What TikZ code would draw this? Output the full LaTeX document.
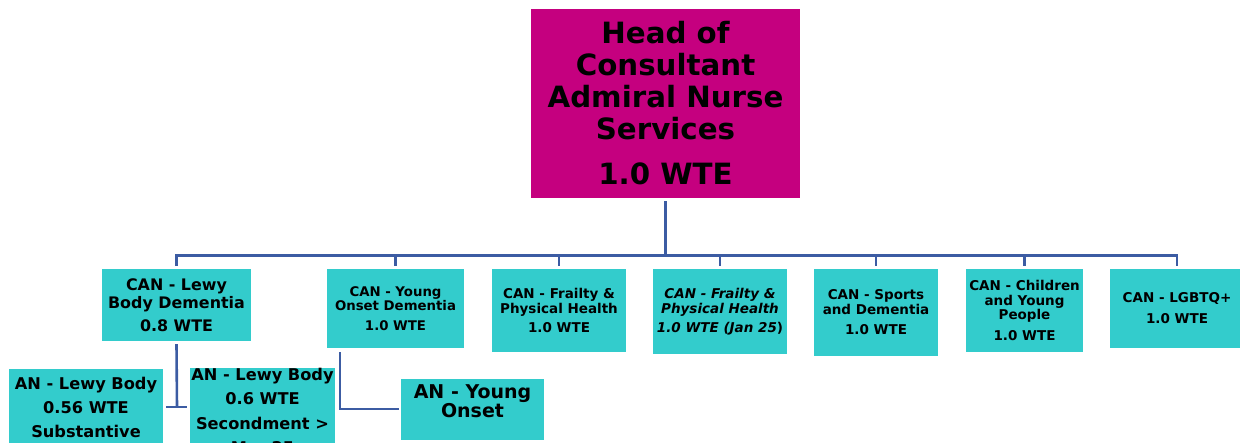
\documentclass[tikz,border=0pt]{standalone}
\usepackage{fontspec}
\setmainfont{DejaVu Sans}
\definecolor{headmag}{HTML}{C5007F}
\definecolor{tealbox}{HTML}{33CCCC}
\definecolor{linkblue}{HTML}{3C5CA3}
\newcommand{\fs}[2]{\fontsize{#1}{#2}\selectfont}
\tikzset{
  headbox/.style={fill=headmag, inner sep=0pt, align=center},
  canbox/.style={fill=tealbox, inner sep=0pt, align=center},
  link/.style={draw=linkblue, line width=2.6pt},
}
\begin{document}
\begin{tikzpicture}[x=1pt,y=-1pt]
\useasboundingbox (0,0) rectangle (1240,443);
\clip (0,0) rectangle (1240,443);
% head
\node[headbox, minimum width=269pt, minimum height=189pt, font={\bfseries\fs{29.3}{32}}] (head) at (665.5,103.5)
  {Head of\\Consultant\\Admiral Nurse\\Services\\[13pt]1.0 WTE};
% CAN row
\node[canbox, minimum width=149pt, minimum height=72pt, font={\bfseries\fs{15.9}{18}}] (lewy) at (176.5,305)
  {CAN - Lewy\\Body Dementia\\[5pt]0.8 WTE};
\node[canbox, minimum width=137pt, minimum height=79pt, font={\bfseries\fs{13.3}{14}}] (yod) at (395.5,308.5)
  {CAN - Young\\Onset Dementia\\[6pt]1.0 WTE};
\node[canbox, minimum width=134pt, minimum height=83pt, font={\bfseries\fs{13.5}{15}}] (frail) at (559,310.5)
  {CAN - Frailty \&\\Physical Health\\[4pt]1.0 WTE};
\node[canbox, minimum width=134pt, minimum height=85pt, font={\bfseries\itshape\fs{13.5}{15}}] (frailb) at (720,311.5)
  {CAN - Frailty \&\\Physical Health\\[4pt]1.0 WTE (Jan 25\textup{)}};
\node[canbox, minimum width=124pt, minimum height=87pt, font={\bfseries\fs{13.5}{15}}] (sport) at (876,312.5)
  {CAN - Sports\\and Dementia\\[5pt]1.0 WTE};
\node[canbox, minimum width=117pt, minimum height=83pt, font={\bfseries\fs{13.5}{14.5}}] (child) at (1024.5,310.5)
  {CAN - Children\\and Young\\People\\[6pt]1.0 WTE};
\node[canbox, minimum width=134pt, minimum height=79pt, font={\bfseries\fs{13.5}{21}}] (lgbt) at (1177,308.5)
  {CAN - LGBTQ+\\1.0 WTE};
% AN row
\node[canbox, minimum width=154pt, minimum height=76pt, font={\bfseries\fs{16.2}{24}}] (anl1) at (86,407)
  {AN - Lewy Body\\0.56 WTE\\Substantive};
\node[canbox, minimum width=145pt, minimum height=84pt, font={\bfseries\fs{16.2}{24.3}}] (anl2) at (262.5,411)
  {AN - Lewy Body\\0.6 WTE\\Secondment >\\Mar 25};
\node[canbox, minimum width=143pt, minimum height=61pt, font={\bfseries\fs{19}{17}}] (any) at (472.5,409.5)
  {AN - Young\\Onset\\\mbox{}};
% connectors
\coordinate (bus) at (666,255.5);
\draw[link] ([yshift=-3pt]head.south) -- (head.south |- bus);
\draw[link, line cap=rect] (lewy.north |- bus) -- (lgbt.north |- bus);
\foreach \n in {lewy,yod,frail,frailb,sport,child,lgbt}
  \draw[link, shorten >=3pt] (\n.north |- bus) -- (\n.north);
\coordinate (lj) at (177,407);
\draw[link] ([yshift=-3pt]lewy.south) -- (lj);
\draw[link] ([xshift=3pt]anl1.east |- lj) -- ([xshift=-3pt]anl2.west |- lj);
\coordinate (yj) at (340,409);
\draw[link] ([yshift=-4pt]yod.south -| yj) -- (yj) -- ([xshift=-2pt]any.west |- yj);
\end{tikzpicture}
\end{document}
